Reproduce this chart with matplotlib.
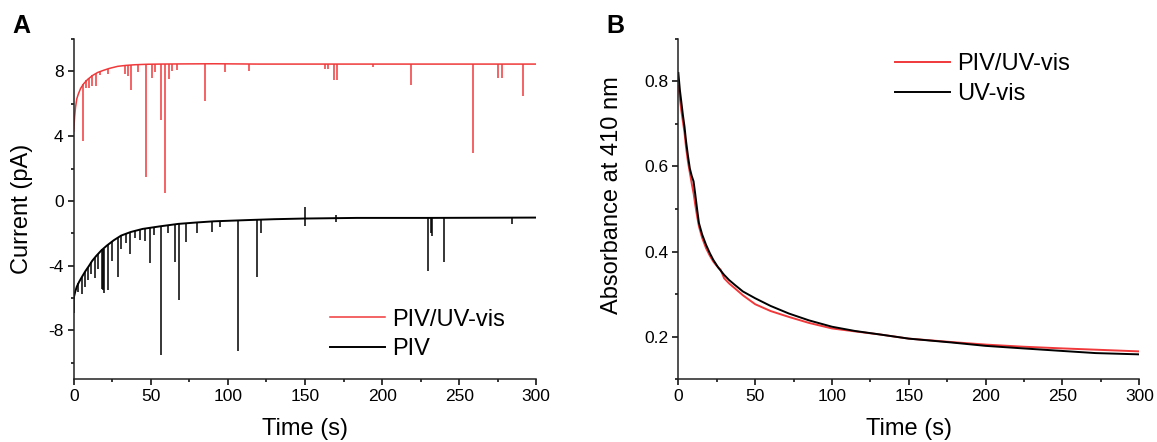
import numpy as np
import matplotlib.pyplot as plt
from matplotlib.ticker import MultipleLocator

plt.rcParams['font.family'] = ['Liberation Sans', 'DejaVu Sans']
plt.rcParams['axes.unicode_minus'] = False

# ---- Panel A: current traces (baseline) ----
piv_uv_t = [0, 0.6, 1.2, 2, 3, 4.5, 6.5, 9, 12.3, 15.5, 19.2, 23, 28.5, 34, 40,
            48, 56, 70, 91, 120, 300]
piv_uv_i = [4.3, 5.2, 5.8, 6.3, 6.6, 6.95, 7.24, 7.5, 7.75, 7.93, 8.06, 8.18, 8.31,
            8.37, 8.41, 8.44, 8.45, 8.46, 8.47, 8.45, 8.45]

# downward spikes: time, lowest value, baseline at spike
piv_uv_spike_t = [5.8, 8, 10, 12, 14.6, 17, 22, 33.1, 35, 37, 41.7, 47.2, 50.5, 53,
                  56.5, 59.3, 62, 64, 67, 85, 98, 113.4, 163, 165, 168.8, 170.8, 194,
                  219, 259, 275.5, 278, 291.2]
piv_uv_spike_lo = [3.71, 7.0, 7.0, 7.1, 7.1, 7.75, 7.85, 7.85, 7.7, 6.87, 7.96, 1.5,
                   7.6, 7.95, 5.0, 0.5, 7.55, 8.0, 8.06, 6.17, 7.96, 8.0, 8.15, 8.15,
                   7.49, 7.49, 8.25, 7.18, 2.97, 7.6, 7.6, 6.5]
piv_uv_spike_hi = [7.2, 7.45, 7.6, 7.75, 7.9, 8.0, 8.13, 8.36, 8.37, 8.39, 8.41, 8.44,
                   8.44, 8.45, 8.45, 8.45, 8.45, 8.45, 8.46, 8.46, 8.47, 8.47, 8.45,
                   8.45, 8.45, 8.45, 8.45, 8.45, 8.45, 8.45, 8.45, 8.45]

piv_t = [0, 1, 2, 3.5, 5.3, 7.5, 10, 12, 14.6, 18, 21.5, 26, 30.8, 37, 44.7, 56,
         67.8, 80, 91, 114, 130, 149, 183.6, 230, 300]
piv_i = [-6.0, -5.6, -5.3, -5.0, -4.7, -4.35, -4.0, -3.7, -3.4, -3.05, -2.76, -2.43,
         -2.14, -1.92, -1.73, -1.57, -1.42, -1.33, -1.26, -1.18, -1.13, -1.09, -1.05,
         -1.05, -1.03]

piv_spike_t = [0.5, 3, 5.3, 7.2, 9, 11.5, 13.8, 15.7, 18.1, 18.7, 19.7, 22.2, 25,
               28.5, 31, 34, 36.8, 40, 43, 46, 49.3, 52, 56.5, 61, 66, 68.3, 72.9,
               80, 89.4, 95, 106.7, 118.8, 121.5, 150, 170, 229.9, 231.5, 232.5,
               240.3, 284]
piv_spike_lo = [-6.9, -5.6, -5.75, -5.3, -4.9, -4.5, -4.77, -4.2, -5.46, -5.5, -5.7,
                -5.5, -3.7, -4.7, -3.0, -2.6, -3.3, -2.3, -2.4, -2.5, -3.85, -2.1,
                -9.5, -2.0, -3.8, -6.1, -2.55, -2.0, -1.95, -1.6, -9.3, -4.7, -2.0,
                -1.57, -1.3, -4.3, -2.0, -2.15, -3.8, -1.4]
piv_spike_hi = [-5.8, -5.1, -4.7, -4.4, -4.1, -3.8, -3.5, -3.3, -3.0, -3.0, -2.95,
                -2.7, -2.5, -2.25, -2.1, -2.0, -1.95, -1.85, -1.78, -1.7, -1.65, -1.62,
                -1.57, -1.5, -1.44, -1.42, -1.38, -1.33, -1.27, -1.24, -1.2, -1.17,
                -1.16, -0.4, -0.85, -1.05, -1.05, -1.05, -1.05, -1.04]

# ---- Panel B: absorbance at 410 nm ----
abs_piv_t = [0, 1, 2, 3, 4, 5, 6.3, 7.5, 8.7, 10, 11, 12.2, 13.4, 15.5, 18, 20.5,
             22.8, 25, 27.5, 29.8, 33, 36.9, 42, 50, 60, 72, 85, 100, 115, 130.8,
             150, 177.7, 200, 224.6, 250, 271.6, 300]
abs_piv_a = [0.79, 0.76, 0.73, 0.705, 0.68, 0.645, 0.61, 0.585, 0.56, 0.535, 0.51,
             0.483, 0.459, 0.432, 0.408, 0.39, 0.376, 0.366, 0.357, 0.337, 0.325,
             0.313, 0.297, 0.276, 0.26, 0.246, 0.232, 0.219, 0.212, 0.205, 0.195,
             0.187, 0.181, 0.176, 0.172, 0.169, 0.165]
abs_uv_t = [0, 0.5, 1, 2, 3, 4, 5, 6.3, 7.5, 8.7, 9.9, 11, 12.2, 13.4, 15.5, 18,
            20.5, 22.8, 26, 29.8, 33, 36.9, 42, 50, 60, 72, 85, 100, 115, 130.8, 150,
            177.7, 200, 224.6, 250, 271.6, 300]
abs_uv_a = [0.82, 0.80, 0.78, 0.75, 0.72, 0.694, 0.66, 0.624, 0.595, 0.578, 0.565,
            0.535, 0.50, 0.467, 0.44, 0.416, 0.396, 0.38, 0.362, 0.345, 0.333, 0.321,
            0.306, 0.29, 0.272, 0.254, 0.238, 0.223, 0.213, 0.205, 0.195, 0.186,
            0.178, 0.172, 0.166, 0.161, 0.158]

RED = '#f0393b'
BLACK = '#000000'
FS = 17


def style_axes(ax):
    for s in ('top', 'right'):
        ax.spines[s].set_visible(False)
    for s in ('left', 'bottom'):
        ax.spines[s].set_linewidth(1.1)
        ax.spines[s].set_color('#222222')
    ax.tick_params(which='major', direction='out', length=4.3, width=1.1,
                   labelsize=12.5, pad=3)
    ax.tick_params(which='minor', direction='out', length=2.3, width=1.1)


fig = plt.figure(figsize=(11.57, 4.42), dpi=100)
ax1 = fig.add_axes([0.0637, 0.1425, 0.3998, 0.7693])
ax2 = fig.add_axes([0.5863, 0.1425, 0.3984, 0.7693])

leg_kw = dict(loc='upper left', frameon=False, fontsize=FS, handlelength=2.35,
              handletextpad=0.3, labelspacing=0.32, borderpad=0, borderaxespad=0)

# ---- A ----
ax1.plot(piv_uv_t, piv_uv_i, color=RED, lw=1.1, label='PIV/UV-vis')
ax1.vlines(piv_uv_spike_t, piv_uv_spike_lo, piv_uv_spike_hi, color=RED, lw=1.1)
ax1.plot(piv_t, piv_i, color=BLACK, lw=1.4, label='PIV')
ax1.vlines(piv_spike_t, piv_spike_lo, piv_spike_hi, color=BLACK, lw=1.1)
ax1.set_xlim(0, 300)
ax1.set_ylim(-11, 10)
ax1.xaxis.set_major_locator(MultipleLocator(50))
ax1.xaxis.set_minor_locator(MultipleLocator(25))
ax1.set_yticks([-8, -4, 0, 4, 8])
ax1.yaxis.set_minor_locator(MultipleLocator(2))
style_axes(ax1)
ax1.set_xlabel('Time (s)', fontsize=FS)
ax1.set_ylabel('Current (pA)', fontsize=FS)
ax1.xaxis.set_label_coords(0.5, -0.115)
ax1.yaxis.set_label_coords(-0.088, 0.5)
ax1.legend(bbox_to_anchor=(0.553, 0.207), **leg_kw)

# ---- B ----
ax2.plot(abs_piv_t, abs_piv_a, color=RED, lw=1.4, label='PIV/UV-vis')
ax2.plot(abs_uv_t, abs_uv_a, color=BLACK, lw=1.4, label='UV-vis')
ax2.set_xlim(0, 300)
ax2.set_ylim(0.1, 0.9)
ax2.xaxis.set_major_locator(MultipleLocator(50))
ax2.xaxis.set_minor_locator(MultipleLocator(25))
ax2.set_yticks([0.2, 0.4, 0.6, 0.8])
ax2.yaxis.set_minor_locator(MultipleLocator(0.1))
style_axes(ax2)
ax2.set_xlabel('Time (s)', fontsize=FS)
ax2.set_ylabel('Absorbance at 410 nm', fontsize=FS)
ax2.xaxis.set_label_coords(0.5, -0.115)
ax2.yaxis.set_label_coords(-0.12, 0.54)
ax2.legend(bbox_to_anchor=(0.47, 0.958), **leg_kw)

fig.text(0.0104, 0.925, 'A', fontsize=18, fontweight='bold')
fig.text(0.524, 0.925, 'B', fontsize=18, fontweight='bold')

fig.savefig('out.png', dpi=100)
